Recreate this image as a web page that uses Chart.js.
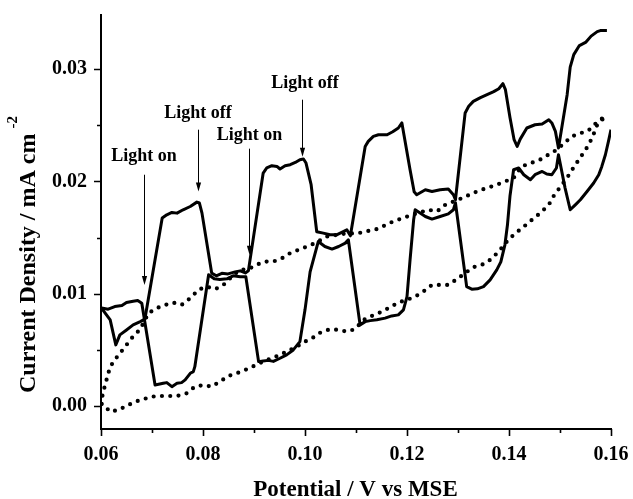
<!DOCTYPE html>
<html>
<head>
<meta charset="utf-8">
<script src="https://cdn.jsdelivr.net/npm/chart.js@4"></script>
<style>
  body { margin: 0; background: #fff; }
  #wrap { width: 633px; height: 499px; }
</style>
</head>
<body>
<div id="wrap"><canvas id="cvChart" width="633" height="499"></canvas></div>
<script>
// axis ticks
const X_TICKS = [0.06, 0.08, 0.10, 0.12, 0.14, 0.16];
const X_MINOR = [0.07, 0.09, 0.11, 0.13, 0.15];
const Y_TICKS = [0.00, 0.01, 0.02, 0.03];
const Y_MINOR = [0.005, 0.015, 0.025];

// chopped light scan, branch running through the dark (low) steps
const xLow = [0.0601, 0.0614, 0.0627, 0.0641, 0.0650, 0.0663, 0.0672, 0.0680, 0.0706, 0.0722,
  0.0729, 0.0739, 0.0749, 0.0758, 0.0765, 0.0775, 0.0781, 0.0784, 0.0811, 0.0822,
  0.0833, 0.0847, 0.0859, 0.0873, 0.0884, 0.0909, 0.0918, 0.0928, 0.0938, 0.0951,
  0.0964, 0.0977, 0.0990, 0.1000, 0.1010, 0.1026, 0.1039, 0.1053, 0.1066, 0.1079,
  0.1085, 0.1108, 0.1118, 0.1128, 0.1141, 0.1157, 0.1170, 0.1183, 0.1193, 0.1200,
  0.1206, 0.1213, 0.1216, 0.1236, 0.1249, 0.1265, 0.1281, 0.1291, 0.1295, 0.1317,
  0.1327, 0.1338, 0.1350, 0.1363, 0.1376, 0.1384, 0.1392, 0.1397, 0.1402, 0.1409,
  0.1419, 0.1429, 0.1442, 0.1451, 0.1465, 0.1474, 0.1484, 0.1493, 0.1497, 0.1510,
  0.1520, 0.1530, 0.1540, 0.1553, 0.1566, 0.1576, 0.1582, 0.1589, 0.1595, 0.1600];
const yLow = [0.00873, 0.00862, 0.00885, 0.00894, 0.00921, 0.00933, 0.00939, 0.00915, 0.00187, 0.00202,
  0.00208, 0.00172, 0.00202, 0.00208, 0.00232, 0.00291, 0.00306, 0.00350, 0.01168, 0.01132,
  0.01127, 0.01132, 0.01159, 0.01150, 0.01150, 0.00395, 0.00401, 0.00406, 0.00397, 0.00425,
  0.00455, 0.00499, 0.00573, 0.00856, 0.01194, 0.01464, 0.01420, 0.01397, 0.01420, 0.01450,
  0.01480, 0.00722, 0.00751, 0.00760, 0.00767, 0.00782, 0.00802, 0.00811, 0.00856, 0.00974,
  0.01301, 0.01658, 0.01747, 0.01687, 0.01664, 0.01687, 0.01711, 0.01747, 0.01809, 0.01063,
  0.01040, 0.01043, 0.01063, 0.01123, 0.01212, 0.01283, 0.01435, 0.01613, 0.01872, 0.02103,
  0.02119, 0.02059, 0.02014, 0.02059, 0.02088, 0.02065, 0.02059, 0.02119, 0.02237, 0.01940,
  0.01747, 0.01791, 0.01836, 0.01910, 0.01985, 0.02059, 0.02133, 0.02237, 0.02356, 0.02460];

// chopped light scan, branch running through the illuminated (high) steps
const xHigh = [0.0601, 0.0618, 0.0629, 0.0637, 0.0650, 0.0663, 0.0677, 0.0686, 0.0720, 0.0729,
  0.0739, 0.0749, 0.0761, 0.0775, 0.0788, 0.0793, 0.0798, 0.0817, 0.0826, 0.0837,
  0.0849, 0.0863, 0.0873, 0.0883, 0.0889, 0.0918, 0.0925, 0.0935, 0.0945, 0.0951,
  0.0961, 0.0971, 0.0981, 0.0990, 0.0997, 0.1002, 0.1012, 0.1023, 0.1036, 0.1049,
  0.1062, 0.1075, 0.1082, 0.1089, 0.1118, 0.1124, 0.1134, 0.1144, 0.1161, 0.1172,
  0.1183, 0.1190, 0.1194, 0.1206, 0.1214, 0.1219, 0.1236, 0.1249, 0.1265, 0.1281,
  0.1291, 0.1295, 0.1314, 0.1321, 0.1330, 0.1344, 0.1357, 0.1370, 0.1380, 0.1388,
  0.1393, 0.1402, 0.1410, 0.1416, 0.1422, 0.1435, 0.1451, 0.1465, 0.1478, 0.1484,
  0.1491, 0.1497, 0.1514, 0.1520, 0.1527, 0.1538, 0.1551, 0.1561, 0.1573, 0.1579, 0.1592];
const yHigh = [0.00871, 0.00766, 0.00544, 0.00633, 0.00677, 0.00722, 0.00751, 0.00773, 0.01673, 0.01702,
  0.01723, 0.01717, 0.01747, 0.01776, 0.01815, 0.01807, 0.01717, 0.01183, 0.01159, 0.01181,
  0.01176, 0.01194, 0.01203, 0.01185, 0.01203, 0.02074, 0.02119, 0.02139, 0.02133, 0.02110,
  0.02139, 0.02148, 0.02168, 0.02193, 0.02199, 0.02163, 0.01970, 0.01551, 0.01539, 0.01524,
  0.01524, 0.01553, 0.01569, 0.01515, 0.02311, 0.02356, 0.02400, 0.02415, 0.02415, 0.02442,
  0.02475, 0.02520, 0.02415, 0.02103, 0.01907, 0.01881, 0.01925, 0.01910, 0.01925, 0.01931,
  0.01881, 0.01836, 0.02609, 0.02668, 0.02712, 0.02745, 0.02772, 0.02799, 0.02825, 0.02870,
  0.02816, 0.02567, 0.02371, 0.02311, 0.02376, 0.02475, 0.02504, 0.02511, 0.02549, 0.02520,
  0.02445, 0.02297, 0.02772, 0.03017, 0.03128, 0.03209, 0.03240, 0.03293, 0.03333, 0.03342, 0.03342];

// dark scan (dotted), upper branch
const xDarkUp = [0.0601, 0.0603, 0.0608, 0.0618, 0.0631, 0.0645, 0.0660, 0.0677, 0.0693, 0.0709,
  0.0726, 0.0741, 0.0758, 0.0775, 0.0791, 0.0807, 0.0824, 0.0840, 0.0860, 0.0873,
  0.0889, 0.0905, 0.0922, 0.0938, 0.0955, 0.0971, 0.0987, 0.1004, 0.1020, 0.1043,
  0.1075, 0.1105, 0.1141, 0.1173, 0.1210, 0.1242, 0.1259, 0.1275, 0.1308, 0.1340,
  0.1376, 0.1409, 0.1425, 0.1461, 0.1494, 0.1523, 0.1556, 0.1573, 0.1591];
const yDarkUp = [0.00018, 0.00098, 0.00187, 0.00350, 0.00434, 0.00514, 0.00603, 0.00684, 0.00826, 0.00871,
  0.00900, 0.00921, 0.00900, 0.00960, 0.01034, 0.01063, 0.01040, 0.01078, 0.01168, 0.01212,
  0.01218, 0.01257, 0.01286, 0.01286, 0.01316, 0.01361, 0.01390, 0.01420, 0.01450, 0.01509,
  0.01533, 0.01539, 0.01575, 0.01643, 0.01702, 0.01747, 0.01732, 0.01791, 0.01851, 0.01916,
  0.01970, 0.02029, 0.02133, 0.02193, 0.02282, 0.02400, 0.02454, 0.02529, 0.02587];

// dark scan (dotted), lower branch
const xDarkDown = [0.0601, 0.0605, 0.0618, 0.0634, 0.0650, 0.0667, 0.0683, 0.0699, 0.0716, 0.0749,
  0.0768, 0.0784, 0.0801, 0.0817, 0.0833, 0.0850, 0.0866, 0.0886, 0.0918, 0.0951,
  0.0984, 0.1000, 0.1017, 0.1030, 0.1049, 0.1066, 0.1082, 0.1098, 0.1115, 0.1131,
  0.1151, 0.1167, 0.1183, 0.1200, 0.1216, 0.1232, 0.1249, 0.1281, 0.1298, 0.1314,
  0.1330, 0.1347, 0.1363, 0.1380, 0.1393, 0.1409, 0.1427, 0.1445, 0.1461, 0.1478,
  0.1489, 0.1504, 0.1517, 0.1528, 0.1540, 0.1553, 0.1563, 0.1573, 0.1591];
const yDarkDown = [0.00018, 0.00009, -0.00051, -0.00036, 0.00000, 0.00038, 0.00060, 0.00083, 0.00089, 0.00089,
  0.00113, 0.00172, 0.00187, 0.00172, 0.00217, 0.00267, 0.00291, 0.00327, 0.00395, 0.00455,
  0.00529, 0.00573, 0.00612, 0.00653, 0.00684, 0.00677, 0.00662, 0.00684, 0.00766, 0.00802,
  0.00840, 0.00880, 0.00921, 0.00945, 0.00974, 0.01019, 0.01078, 0.01078, 0.01129, 0.01183,
  0.01236, 0.01257, 0.01301, 0.01375, 0.01450, 0.01524, 0.01589, 0.01658, 0.01717, 0.01791,
  0.01881, 0.01970, 0.02053, 0.02133, 0.02213, 0.02302, 0.02386, 0.02504, 0.02587];

// arrow annotations, in data units
const NOTES = [
  { text: "Light on",  tx: 0.06844, ty: 0.02184, x: 0.06834, top: 0.02059, tip: 0.01078 },
  { text: "Light off", tx: 0.07903, ty: 0.02567, x: 0.07893, top: 0.02460, tip: 0.01910 },
  { text: "Light on",  tx: 0.08913, ty: 0.02371, x: 0.08904, top: 0.02291, tip: 0.01346 },
  { text: "Light off", tx: 0.10002, ty: 0.02834, x: 0.09938, top: 0.02727, tip: 0.02219 }
];

const SERIF = '"Liberation Serif", "Times New Roman", serif';

function toPoints(xs, ys) {
  return xs.map((x, i) => ({ x: x, y: ys[i] }));
}

function noPad(s) {
  s.paddingLeft = 0;
  s.paddingRight = 0;
  s.paddingTop = 0;
  s.paddingBottom = 0;
}

const solid = { borderColor: "#000", borderWidth: 3, borderJoinStyle: "round", pointRadius: 0, showLine: true, tension: 0, fill: false };
const dotted = { borderColor: "#000", borderWidth: 4.2, borderCapStyle: "round", borderDash: [0, 8.3], pointRadius: 0, showLine: true, tension: 0, fill: false };

const decor = {
  id: "decor",
  afterDraw(chart) {
    const ctx = chart.ctx;
    const a = chart.chartArea;
    const xs = chart.scales.x, ys = chart.scales.y;
    ctx.save();
    ctx.strokeStyle = "#000";
    ctx.fillStyle = "#000";

    // axis lines
    ctx.lineWidth = 2;
    ctx.beginPath();
    ctx.moveTo(a.left, a.top);
    ctx.lineTo(a.left, a.bottom);
    ctx.lineTo(a.right + 1, a.bottom);
    ctx.stroke();

    // tick marks, pointing outwards
    ctx.lineWidth = 1.6;
    ctx.beginPath();
    X_TICKS.concat(X_MINOR).forEach(v => {
      const px = Math.round(xs.getPixelForValue(v)) + 0.5;
      const len = X_TICKS.includes(v) ? 7 : 4;
      ctx.moveTo(px, a.bottom);
      ctx.lineTo(px, a.bottom + len);
    });
    Y_TICKS.concat(Y_MINOR).forEach(v => {
      const py = Math.round(ys.getPixelForValue(v)) + 0.5;
      const len = Y_TICKS.includes(v) ? 7 : 4;
      ctx.moveTo(a.left, py);
      ctx.lineTo(a.left - len, py);
    });
    ctx.stroke();

    // annotations
    ctx.font = "bold 18px " + SERIF;
    ctx.textAlign = "center";
    ctx.textBaseline = "alphabetic";
    NOTES.forEach(n => {
      ctx.fillText(n.text, xs.getPixelForValue(n.tx), ys.getPixelForValue(n.ty));
      const px = Math.round(xs.getPixelForValue(n.x)) + 0.5;
      const y0 = ys.getPixelForValue(n.top);
      const y1 = ys.getPixelForValue(n.tip);
      ctx.lineWidth = 1;
      ctx.beginPath();
      ctx.moveTo(px, y0);
      ctx.lineTo(px, y1 - 6);
      ctx.stroke();
      ctx.beginPath();
      ctx.moveTo(px, y1);
      ctx.lineTo(px - 2.6, y1 - 9);
      ctx.lineTo(px + 2.6, y1 - 9);
      ctx.closePath();
      ctx.fill();
    });

    // axis titles
    ctx.font = "bold 23px " + SERIF;
    ctx.textAlign = "center";
    ctx.fillText("Potential / V vs MSE", 355.5, 496);

    ctx.font = "bold 24px " + SERIF;
    ctx.translate(35, 393);
    ctx.rotate(-Math.PI / 2);
    ctx.textAlign = "left";
    const main = "Current Density / mA cm";
    ctx.fillText(main, 0, 0);
    const w = ctx.measureText(main).width;
    ctx.font = "bold 15px " + SERIF;
    ctx.fillText("-2", w + 5, -18);
    ctx.restore();
  }
};

const tickFont = { family: SERIF, size: 20, weight: "bold" };

new Chart(document.getElementById("cvChart").getContext("2d"), {
  type: "scatter",
  data: {
    datasets: [
      Object.assign({ label: "dark up", data: toPoints(xDarkUp, yDarkUp) }, dotted),
      Object.assign({ label: "dark down", data: toPoints(xDarkDown, yDarkDown) }, dotted),
      Object.assign({ label: "chopped low", data: toPoints(xLow, yLow) }, solid),
      Object.assign({ label: "chopped high", data: toPoints(xHigh, yHigh) }, solid)
    ]
  },
  options: {
    responsive: false,
    animation: false,
    devicePixelRatio: 1,
    layout: { padding: { left: 0, right: 22, top: 14, bottom: 0 } },
    plugins: { legend: { display: false }, tooltip: { enabled: false } },
    scales: {
      x: {
        type: "linear",
        min: 0.06,
        max: 0.16,
        afterBuildTicks: s => { s.ticks = X_TICKS.map(v => ({ value: v })); },
        afterFit: s => { s.height = 70; noPad(s); },
        grid: { display: false, drawTicks: false },
        border: { display: false },
        ticks: { padding: 14, color: "#000", font: tickFont, maxRotation: 0, autoSkip: false, callback: v => v.toFixed(2) }
      },
      y: {
        type: "linear",
        min: -0.00205,
        max: 0.0349,
        afterBuildTicks: s => { s.ticks = Y_TICKS.map(v => ({ value: v })); },
        afterFit: s => { s.width = 101; noPad(s); },
        grid: { display: false, drawTicks: false },
        border: { display: false },
        ticks: { padding: 14, color: "#000", font: tickFont, callback: v => v.toFixed(2) }
      }
    }
  },
  plugins: [decor]
});
</script>
</body>
</html>
